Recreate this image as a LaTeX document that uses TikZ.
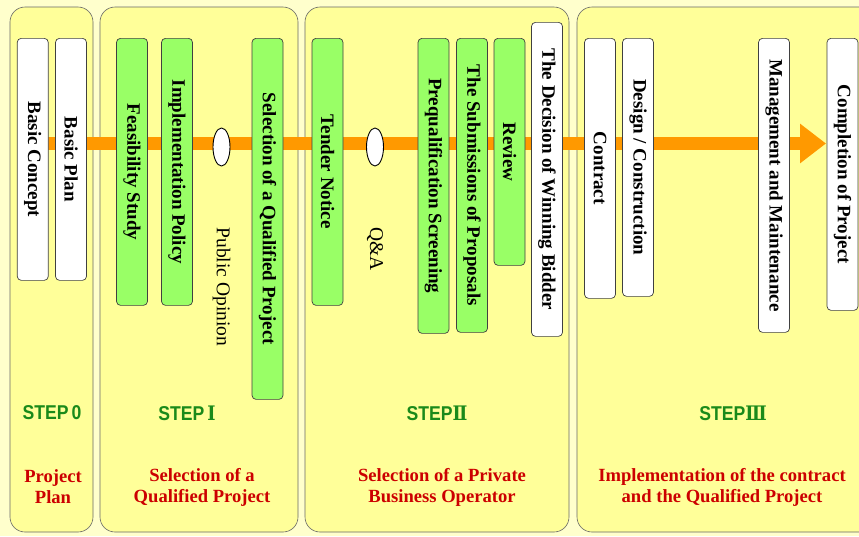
\documentclass[tikz,border=0pt]{standalone}
\usepackage{fontspec}
\setmainfont{Liberation Serif}
\newfontfamily\stepfont{Liberation Sans}
\newfontfamily\numfont{DejaVu Serif}
\usepackage{tikz}
\usetikzlibrary{positioning}
\usetikzlibrary{shapes.geometric,arrows.meta}
\definecolor{pale}{HTML}{FFFFCC}
\definecolor{panel}{HTML}{FFFF99}
\definecolor{leaf}{HTML}{99FF66}
\definecolor{flow}{HTML}{FF9900}
\definecolor{stepgreen}{HTML}{1A8A1A}
\definecolor{capred}{HTML}{CC0000}
\tikzstyle{panelbox}=[draw=black!60, fill=panel, rounded corners=15pt, line width=0.6pt]
\tikzstyle{stage}=[draw=black!75, rounded corners=4pt, rotate=-90, anchor=west, minimum height=31pt, inner sep=0pt, line width=0.7pt, font=\bfseries\fontsize{19}{21}\selectfont]
\tikzstyle{whitestage}=[stage, fill=white]
\tikzstyle{greenstage}=[stage, fill=leaf]
\tikzstyle{hold}=[ellipse, draw=black, fill=white, line width=0.9pt, minimum width=17pt, minimum height=38pt, inner sep=0pt]
\tikzstyle{aside}=[rotate=-90, anchor=west, inner sep=0pt, font=\fontsize{19.5}{21}\selectfont]
\tikzstyle{steplabel}=[text=stepgreen, xscale=0.88, font=\stepfont\bfseries\fontsize{20}{22}\selectfont]
\tikzstyle{caption}=[text=capred, align=center, font=\bfseries\fontsize{18.6}{21}\selectfont]
\tikzstyle{flowline}=[flow, line width=13pt, -{Triangle[width=38pt,length=26pt]}]

\begin{document}
\begin{tikzpicture}[x=1pt,y=-1pt]

				\fill[pale] (0,0) rectangle (859,536);
				\useasboundingbox (0,0) rectangle (859,536);

				% the four steps
				\draw[panelbox] (10,7) rectangle (93,532);
				\draw[panelbox] (100,7) rectangle (298,532);
				\draw[panelbox] (305,7) rectangle (569,532);
				\draw[panelbox] (577,7) rectangle (880,532);

				\coordinate (start) at (32,143.5);
				\coordinate (end) at (826,143.5);
				\draw[flowline] (start) -- (end);

				% step 0
				\draw node[whitestage, minimum width=242pt] (bcon) at (32.75,38) {Basic Concept};
				\draw node[whitestage, minimum width=242pt] (bplan) at (71,38) {Basic Plan};

				% step I
				\draw node[greenstage, minimum width=267pt] (feas) at (132,38) {Feasibility Study};
				\draw node[greenstage, minimum width=267pt] (impl) at (177,38) {Implementation Policy};
				\draw node[hold] (op1) at (221.5,147) {};
				\draw node[aside, below=61pt of op1, anchor=west] (popin) {Public Opinion};
				\draw node[greenstage, minimum width=361pt] (sqp) at (267.5,38) {Selection of a Qualified Project};

				% step II
				\draw node[greenstage, minimum width=267pt] (tend) at (327.5,38) {Tender Notice};
				\draw node[hold] (op2) at (375,147) {};
				\draw node[aside, below=61pt of op2, anchor=west] (qa) {Q\&A};
				\draw node[greenstage, minimum width=295pt] (preq) at (433.5,38) {Prequalification Screening};
				\draw node[greenstage, minimum width=294pt] (subm) at (472,38) {The Submissions of Proposals};
				\draw node[greenstage, minimum width=227pt] (rev) at (509.5,38) {Review};
				\draw node[whitestage, minimum width=314pt] (dec) at (547,22) {The Decision of Winning Bidder};

				% step III
				\draw node[whitestage, minimum width=260pt] (contr) at (600,38) {Contract};
				\draw node[whitestage, minimum width=258pt] (desg) at (638,38) {Design / Construction};
				\draw node[whitestage, minimum width=294pt] (mgmt) at (774,38) {Management and Maintenance};
				\draw node[whitestage, minimum width=272pt] (comp) at (842.5,38) {Completion of Project};

				% labels
				\draw node[steplabel] (s0) at (52,413) {STEP\,0};
				\draw node[steplabel] (s1) at (187,413) {STEP\,{\numfont Ⅰ}};
				\draw node[steplabel] (s2) at (437,413) {STEP{\numfont Ⅱ}};
				\draw node[steplabel] (s3) at (733,413) {STEP{\numfont Ⅲ}};

				\draw node[caption] (c0) at (53,487) {Project\\Plan};
				\draw node[caption] (c1) at (202,487) {Selection of a\\Qualified Project};
				\draw node[caption] (c2) at (442,487) {Selection of a Private\\Business Operator};
				\draw node[caption] (c3) at (722,487) {Implementation of the contract\\and the Qualified Project};
			\end{tikzpicture}
\end{document}
